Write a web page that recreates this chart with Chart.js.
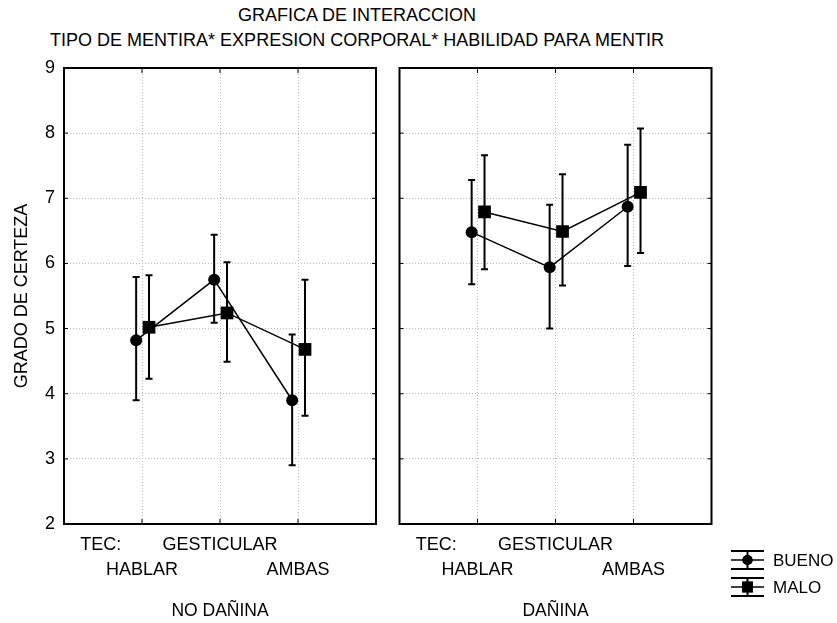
<!DOCTYPE html>
<html>
<head>
<meta charset="utf-8">
<script src="https://cdn.jsdelivr.net/npm/chart.js@4/dist/chart.umd.min.js"></script>
<style>
  html, body { margin: 0; padding: 0; background: #fff; }
  body { width: 837px; height: 623px; position: relative; overflow: hidden;
         font-family: "Liberation Sans", Arial, sans-serif; color: #000; }
  .title { position: absolute; left: 0; width: 714px; text-align: center;
           font-size: 18px; line-height: 20px; white-space: nowrap; }
  canvas { position: absolute; top: 0; }
</style>
</head>
<body>
<div class="title" style="top:5px">GRAFICA DE INTERACCION</div>
<div class="title" style="top:30px">TIPO DE MENTIRA* EXPRESION CORPORAL* HABILIDAD PARA MENTIR</div>
<canvas id="left" width="390" height="623" style="left:0"></canvas>
<canvas id="right" width="447" height="623" style="left:390px"></canvas>
<script>
// Categories
const conditions = ['HABLAR', 'GESTICULAR', 'AMBAS'];
const tecLabel = 'TEC:';
const panelNames = ['NO DAÑINA', 'DAÑINA'];
const groupNames = ['BUENO', 'MALO'];
const yAxisTitle = 'GRADO DE CERTEZA';

// Means and interval limits, NO DAÑINA
const noDaninaBueno = [4.82, 5.75, 3.90];
const noDaninaBuenoLow = [3.90, 5.09, 2.90];
const noDaninaBuenoHigh = [5.79, 6.44, 4.91];
const noDaninaMalo = [5.02, 5.24, 4.68];
const noDaninaMaloLow = [4.23, 4.49, 3.66];
const noDaninaMaloHigh = [5.82, 6.02, 5.75];

// Means and interval limits, DAÑINA
const daninaBueno = [6.48, 5.94, 6.87];
const daninaBuenoLow = [5.68, 5.00, 5.96];
const daninaBuenoHigh = [7.28, 6.90, 7.82];
const daninaMalo = [6.79, 6.49, 7.09];
const daninaMaloLow = [5.91, 5.66, 6.16];
const daninaMaloHigh = [7.66, 7.37, 8.07];

// Axis range
const yMin = 2, yMax = 9, yStep = 1;

// Layout constants (pixels / scale units)
const TEC_POS = 0.47;
const OFFSET_BUENO = -0.075;
const OFFSET_MALO = 0.09;
const FONT = '"Liberation Sans", Arial, sans-serif';

Chart.defaults.font.family = FONT;
Chart.defaults.font.size = 18;
Chart.defaults.color = '#000';

function points(values, offset) {
  return values.map((v, i) => ({ x: i + 1 + offset, y: v }));
}

function dataset(label, values, low, high, offset, style, radius) {
  return {
    label: label,
    data: points(values, offset),
    errLow: low,
    errHigh: high,
    borderColor: '#000',
    backgroundColor: '#000',
    borderWidth: 1.5,
    pointStyle: style,
    pointRadius: radius,
    pointHoverRadius: radius,
    pointBorderWidth: 0,
    pointBackgroundColor: '#000',
    tension: 0,
    showLine: true,
    fill: false
  };
}

// Vertical interval bars with caps, drawn under the markers
const errorBars = {
  id: 'errorBars',
  beforeDatasetsDraw(chart) {
    const ctx = chart.ctx;
    const ys = chart.scales.y;
    ctx.save();
    ctx.strokeStyle = '#000';
    ctx.lineWidth = 2;
    chart.data.datasets.forEach((ds, di) => {
      const meta = chart.getDatasetMeta(di);
      meta.data.forEach((pt, i) => {
        const x = pt.x;
        const yl = ys.getPixelForValue(ds.errLow[i]);
        const yh = ys.getPixelForValue(ds.errHigh[i]);
        ctx.beginPath();
        ctx.moveTo(x, yl); ctx.lineTo(x, yh);
        ctx.moveTo(x - 3.5, yl); ctx.lineTo(x + 3.5, yl);
        ctx.moveTo(x - 3.5, yh); ctx.lineTo(x + 3.5, yh);
        ctx.stroke();
      });
    });
    ctx.restore();
  }
};

// Panel frame with short inward tick marks on every side
const frame = {
  id: 'frame',
  afterDraw(chart) {
    const { ctx, chartArea: a, scales } = chart;
    ctx.save();
    ctx.strokeStyle = '#000';
    ctx.lineWidth = 1;
    ctx.beginPath();
    for (let v = yMin + yStep; v < yMax; v += yStep) {
      const y = scales.y.getPixelForValue(v);
      ctx.moveTo(a.left, y); ctx.lineTo(a.left + 4, y);
      ctx.moveTo(a.right, y); ctx.lineTo(a.right - 4, y);
    }
    for (let i = 1; i <= conditions.length; i++) {
      const x = scales.x.getPixelForValue(i);
      ctx.moveTo(x, a.top); ctx.lineTo(x, a.top + 5);
      ctx.moveTo(x, a.bottom); ctx.lineTo(x, a.bottom - 5);
    }
    ctx.stroke();
    ctx.lineWidth = 2;
    ctx.strokeRect(a.left, a.top, a.right - a.left, a.bottom - a.top);
    ctx.restore();
  }
};

// Legend: interval glyph with marker, then group name
const legendGlyphs = {
  id: 'legendGlyphs',
  afterDraw(chart) {
    const ctx = chart.ctx;
    const x0 = 341, x1 = 374, xc = (x0 + x1) / 2;
    const rows = [560, 587];
    ctx.save();
    ctx.strokeStyle = '#000';
    ctx.fillStyle = '#000';
    ctx.font = '17px ' + FONT;
    ctx.textBaseline = 'middle';
    chart.data.datasets.forEach((ds, i) => {
      const yc = rows[i];
      ctx.lineWidth = 2;
      ctx.beginPath();
      ctx.moveTo(x0, yc - 9); ctx.lineTo(x1, yc - 9);
      ctx.moveTo(x0, yc + 9); ctx.lineTo(x1, yc + 9);
      ctx.moveTo(xc, yc - 9); ctx.lineTo(xc, yc + 9);
      ctx.stroke();
      ctx.lineWidth = 1.5;
      ctx.beginPath();
      ctx.moveTo(x0, yc); ctx.lineTo(x1, yc);
      ctx.stroke();
      Chart.helpers.drawPoint(ctx, { pointStyle: ds.pointStyle, radius: ds.pointRadius * 0.85, borderWidth: 0 }, xc, yc);
      ctx.fill();
      ctx.fillText(ds.label, 383, yc + 1);
    });
    ctx.restore();
  }
};

function makeChart(canvasId, panelIdx, bueno, bLow, bHigh, malo, mLow, mHigh, showY, extra) {
  const isLeft = showY;
  return new Chart(document.getElementById(canvasId), {
    type: 'line',
    data: {
      datasets: [
        dataset(groupNames[0], bueno, bLow, bHigh, OFFSET_BUENO, 'circle', 6),
        dataset(groupNames[1], malo, mLow, mHigh, OFFSET_MALO, 'rect', 9)
      ]
    },
    options: {
      responsive: false,
      devicePixelRatio: 1,
      animation: false,
      events: [],
      layout: { padding: { top: 68, left: 0, bottom: 0, right: isLeft ? 14 : 125.5 } },
      plugins: { legend: { display: false }, tooltip: { enabled: false }, title: { display: false } },
      scales: {
        x: {
          type: 'linear',
          min: 0,
          max: conditions.length + 1,
          afterBuildTicks(scale) {
            scale.ticks = [TEC_POS].concat(conditions.map((c, i) => i + 1)).map(v => ({ value: v }));
          },
          afterFit(scale) { scale.height = 99; },
          ticks: {
            autoSkip: false,
            maxRotation: 0,
            minRotation: 0,
            padding: 8,
            font: { size: 18, lineHeight: 1.4 },
            callback(value) {
              if (value === TEC_POS) return [tecLabel, ''];
              const i = value - 1;
              return i % 2 === 1 ? [conditions[i], ''] : ['', conditions[i]];
            }
          },
          grid: {
            drawTicks: false,
            lineWidth: 1,
            color(ctx) {
              return ctx.tick && Number.isInteger(ctx.tick.value) ? '#b8b8b8' : 'rgba(0,0,0,0)';
            }
          },
          border: { display: false, dash: [1, 2] },
          title: {
            display: true,
            text: panelNames[panelIdx],
            font: { size: 17.5 },
            padding: { top: 0, bottom: 1 }
          }
        },
        y: {
          min: yMin,
          max: yMax,
          afterFit(scale) { scale.width = isLeft ? 64 : 9.5; },
          ticks: {
            display: isLeft,
            stepSize: yStep,
            padding: 9,
            font: { size: 18 }
          },
          grid: {
            drawTicks: false,
            lineWidth: 1,
            color(ctx) {
              return ctx.tick && ctx.tick.value > yMin && ctx.tick.value < yMax ? '#b8b8b8' : 'rgba(0,0,0,0)';
            }
          },
          border: { display: false, dash: [1, 2] },
          title: {
            display: isLeft,
            text: yAxisTitle,
            font: { size: 18 },
            padding: { top: 11, bottom: 0 }
          }
        }
      }
    },
    plugins: [errorBars, frame].concat(extra)
  });
}

makeChart('left', 0, noDaninaBueno, noDaninaBuenoLow, noDaninaBuenoHigh,
          noDaninaMalo, noDaninaMaloLow, noDaninaMaloHigh, true, []);
makeChart('right', 1, daninaBueno, daninaBuenoLow, daninaBuenoHigh,
          daninaMalo, daninaMaloLow, daninaMaloHigh, false, [legendGlyphs]);
</script>
</body>
</html>
